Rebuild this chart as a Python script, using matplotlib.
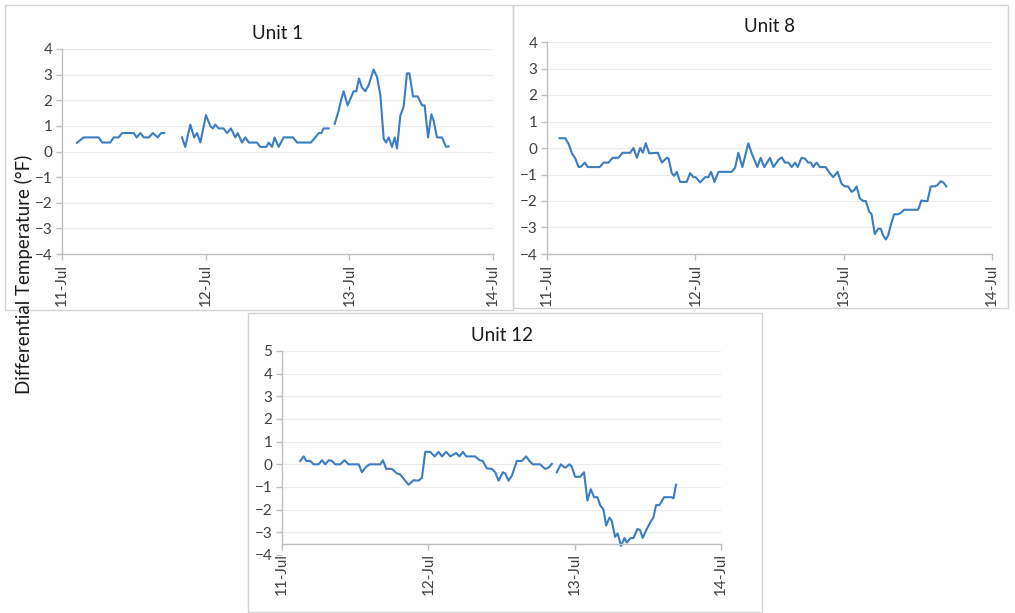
import matplotlib.pyplot as plt
from matplotlib.patches import Rectangle

plt.rcParams['font.family'] = ['Lato', 'DejaVu Sans']

# time in days after 11-Jul 00:00, values in deg F
# Unit 1 has two gaps in the record
u1_t1 = [0.104, 0.15, 0.255, 0.28, 0.336, 0.36, 0.395, 0.418, 0.50, 0.52, 0.545, 0.57, 0.605, 0.633, 0.666, 0.69, 0.712]
u1_v1 = [0.34, 0.55, 0.55, 0.35, 0.35, 0.55, 0.55, 0.72, 0.72, 0.55, 0.72, 0.55, 0.55, 0.72, 0.55, 0.72, 0.72]
u1_t2 = [0.835, 0.858, 0.893, 0.92, 0.94, 0.963, 1.002, 1.032, 1.05, 1.067, 1.09, 1.125, 1.148, 1.176, 1.206,
         1.223, 1.253, 1.276, 1.30, 1.357, 1.38, 1.422, 1.439, 1.462, 1.48, 1.508, 1.543, 1.608, 1.636, 1.733,
         1.763, 1.787, 1.805, 1.821, 1.856]
u1_v2 = [0.55, 0.18, 1.05, 0.55, 0.72, 0.35, 1.42, 1.0, 0.9, 1.05, 0.9, 0.9, 0.72, 0.9, 0.55,
         0.72, 0.35, 0.55, 0.35, 0.35, 0.18, 0.18, 0.35, 0.18, 0.55, 0.18, 0.55, 0.55, 0.35, 0.35,
         0.55, 0.72, 0.72, 0.9, 0.9]
u1_t3 = [1.898, 1.926, 1.942, 1.96, 1.988, 2.007, 2.03, 2.049, 2.067, 2.088, 2.111, 2.135, 2.169, 2.193, 2.216,
         2.239, 2.255, 2.274, 2.297, 2.316, 2.332, 2.355, 2.378, 2.401, 2.418, 2.443, 2.476, 2.506, 2.524, 2.548,
         2.571, 2.587, 2.61, 2.645, 2.673, 2.691]
u1_v3 = [1.08, 1.6, 2.0, 2.35, 1.8, 2.05, 2.35, 2.35, 2.85, 2.5, 2.35, 2.6, 3.2, 2.9, 2.2,
         0.5, 0.35, 0.55, 0.18, 0.55, 0.12, 1.4, 1.75, 3.05, 3.05, 2.15, 2.15, 1.8, 1.8, 0.55,
         1.45, 1.2, 0.55, 0.55, 0.18, 0.2]

u8_t = [0.085, 0.123, 0.146, 0.168, 0.191, 0.213, 0.231, 0.254, 0.276, 0.355, 0.382, 0.415, 0.442, 0.482, 0.509,
        0.561, 0.583, 0.606, 0.628, 0.646, 0.666, 0.689, 0.747, 0.774, 0.808, 0.82, 0.841, 0.857, 0.875, 0.897,
        0.942, 0.965, 0.987, 1.003, 1.032, 1.066, 1.088, 1.106, 1.129, 1.156, 1.245, 1.268, 1.29, 1.317, 1.357,
        1.38, 1.418, 1.44, 1.465, 1.503, 1.526, 1.56, 1.582, 1.604, 1.627, 1.65, 1.672, 1.69, 1.716, 1.739,
        1.761, 1.779, 1.795, 1.817, 1.84, 1.878, 1.907, 1.93, 1.959, 1.986, 2.008, 2.03, 2.053, 2.07, 2.087,
        2.109, 2.131, 2.149, 2.172, 2.188, 2.21, 2.232, 2.25, 2.266, 2.284, 2.30, 2.318, 2.34, 2.367, 2.385,
        2.408, 2.502, 2.524, 2.547, 2.565, 2.587, 2.614, 2.632, 2.654, 2.672, 2.692]
u8_v = [0.37, 0.37, 0.15, -0.2, -0.4, -0.72, -0.7, -0.55, -0.72, -0.72, -0.55, -0.55, -0.37, -0.37, -0.18,
        -0.18, 0.0, -0.37, 0.0, -0.18, 0.18, -0.2, -0.18, -0.55, -0.37, -0.4, -0.95, -1.05, -0.9, -1.28,
        -1.28, -0.95, -1.1, -1.1, -1.3, -1.1, -1.1, -0.9, -1.28, -0.9, -0.9, -0.75, -0.18, -0.72, 0.18,
        -0.2, -0.72, -0.37, -0.72, -0.37, -0.72, -0.45, -0.35, -0.55, -0.55, -0.72, -0.55, -0.72, -0.37, -0.4,
        -0.55, -0.55, -0.72, -0.55, -0.72, -0.72, -0.95, -1.1, -0.9, -1.35, -1.45, -1.45, -1.65, -1.6, -1.45,
        -1.9, -2.0, -2.0, -2.4, -2.5, -3.25, -3.05, -3.05, -3.3, -3.45, -3.3, -2.9, -2.5, -2.5, -2.45,
        -2.33, -2.33, -1.98, -2.0, -2.0, -1.45, -1.45, -1.4, -1.25, -1.3, -1.45]

u12_t1 = [0.125, 0.148, 0.166, 0.193, 0.216, 0.25, 0.273, 0.296, 0.319, 0.341, 0.364, 0.398, 0.428, 0.455, 0.524,
          0.546, 0.576, 0.599, 0.672, 0.69, 0.712, 0.751, 0.785, 0.808, 0.865, 0.899, 0.933, 0.956, 0.979, 1.013,
          1.043, 1.07, 1.093, 1.122, 1.15, 1.19, 1.213, 1.236, 1.259, 1.32, 1.35, 1.372, 1.40, 1.434, 1.457,
          1.48, 1.509, 1.525, 1.548, 1.571, 1.605, 1.639, 1.668, 1.691, 1.714, 1.764, 1.798, 1.821, 1.844]
u12_v1 = [0.15, 0.35, 0.15, 0.15, 0.0, 0.0, 0.18, 0.0, 0.18, 0.15, 0.0, 0.0, 0.18, 0.0, 0.0,
          -0.35, -0.1, 0.0, 0.0, 0.18, -0.2, -0.2, -0.4, -0.45, -0.9, -0.7, -0.72, -0.6, 0.55, 0.55,
          0.35, 0.55, 0.35, 0.55, 0.35, 0.5, 0.35, 0.55, 0.35, 0.35, 0.18, 0.15, -0.18, -0.2, -0.35,
          -0.72, -0.35, -0.4, -0.72, -0.5, 0.15, 0.15, 0.35, 0.15, 0.0, 0.0, -0.2, -0.15, 0.02]
u12_t2 = [1.878, 1.905, 1.935, 1.965, 1.98, 2.003, 2.037, 2.064, 2.087, 2.11, 2.133, 2.156, 2.174, 2.197, 2.215,
          2.238, 2.254, 2.276, 2.294, 2.317, 2.34, 2.356, 2.383, 2.402, 2.429, 2.447, 2.465, 2.493, 2.522, 2.538,
          2.556, 2.579, 2.611, 2.663, 2.675, 2.693]
u12_v2 = [-0.35, 0.0, -0.15, 0.0, -0.1, -0.55, -0.55, -0.35, -1.6, -1.1, -1.45, -1.45, -1.8, -2.0, -2.7,
          -2.35, -2.5, -3.2, -3.05, -3.6, -3.25, -3.45, -3.25, -3.25, -2.85, -2.9, -3.25, -2.85, -2.5, -2.35,
          -1.8, -1.8, -1.45, -1.45, -1.5, -0.9]

day_ticks = [0, 1, 2, 3]
day_labels = ['11-Jul', '12-Jul', '13-Jul', '14-Jul']

W, H = 1015, 613
fig = plt.figure(figsize=(W / 100, H / 100), dpi=100)


def px_axes(x0, x1, y0, y1):
    # pixel box (left, right, top, bottom) -> figure axes
    return fig.add_axes([x0 / W, 1 - y1 / H, (x1 - x0) / W, (y1 - y0) / H])


def frame(x0, x1, y0, y1):
    fig.add_artist(Rectangle((x0 / W, 1 - y1 / H), (x1 - x0) / W, (y1 - y0) / H,
                             transform=fig.transFigure, fill=False, ec='#d4d4d4', lw=1.0))


line_c = '#3A7DC2'
axis_c = '#bfbfbf'


def style(ax, title, ymin, ymax):
    ax.set_xlim(0, 3)
    ax.set_ylim(ymin, ymax)
    ax.set_yticks(range(ymin, ymax + 1))
    ax.set_xticks(day_ticks)
    ax.set_xticklabels(day_labels, rotation=90)
    ax.grid(axis='y', color='#ececec', lw=0.8)
    ax.set_axisbelow(True)
    for s in ['top', 'right']:
        ax.spines[s].set_visible(False)
    for s in ['left', 'bottom']:
        ax.spines[s].set_color(axis_c)
        ax.spines[s].set_linewidth(1.0)
    ax.tick_params(axis='both', colors=axis_c, labelcolor='#404040', labelsize=11, length=4, width=1)
    ax.tick_params(axis='x', pad=3)
    ax.tick_params(axis='y', pad=3)
    ax.set_title(title, fontsize=13.5, color='#1a1a1a', pad=7)


frame(5, 513, 5, 310)
frame(513, 1008, 5, 308)
frame(248, 762, 313, 612)

ax1 = px_axes(62, 493, 49, 254)
ax1.plot(u1_t1, u1_v1, color=line_c, lw=1.5)
ax1.plot(u1_t2, u1_v2, color=line_c, lw=1.5)
ax1.plot(u1_t3, u1_v3, color=line_c, lw=1.5)
style(ax1, 'Unit 1', -4, 4)

ax8 = px_axes(547, 992, 42, 254)
ax8.plot(u8_t, u8_v, color=line_c, lw=1.5)
style(ax8, 'Unit 8', -4, 4)

ax12 = px_axes(282, 721, 351, 555)
ax12.plot(u12_t1, u12_v1, color=line_c, lw=1.5, clip_on=False)
ax12.plot(u12_t2, u12_v2, color=line_c, lw=1.5, clip_on=False)
# the horizontal axis of this chart sits at -3.5, above the -4 label
ax12.spines['bottom'].set_position(('data', -3.5))
ax12.spines['left'].set_bounds(-3.5, 5)
style(ax12, 'Unit 12', -4, 5)

fig.text(24 / W, 1 - 274 / H, 'Differential Temperature (°F)', rotation=90,
         ha='center', va='center', fontsize=13.5, color='#1a1a1a')

fig.savefig('out.png', dpi=100)
